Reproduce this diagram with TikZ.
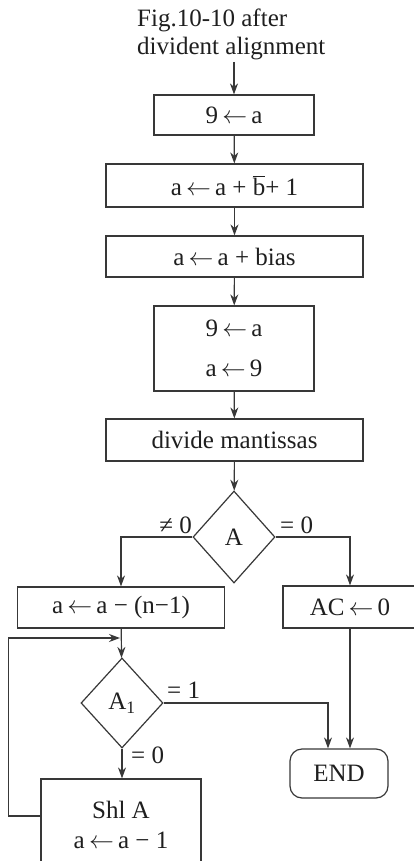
\documentclass[tikz,border=0pt]{standalone}
\usepackage{fontspec}
\setmainfont{Liberation Serif}
\usetikzlibrary{arrows.meta,shapes.geometric}
\newcommand{\lar}{\,$\leftarrow$\,}
\tikzset{
  every node/.style={font=\fontsize{25}{28}\selectfont, text=black!88},
  line/.style={draw=black!78, line width=1.2pt},
  arr/.style={line, -{Stealth[length=11pt,width=8pt]}},
  box/.style={line, rectangle, inner sep=0pt},
  dec/.style={line, diamond, aspect=1, inner sep=0pt},
  endbox/.style={line, rectangle, rounded corners=12pt, inner sep=0pt},
  lbl/.style={inner sep=0pt}
}
\begin{document}
\begin{tikzpicture}[x=1pt,y=-1pt]
\useasboundingbox (0,0) rectangle (414,861);
\fill[white] (0,0) rectangle (414,861);

\node[lbl, anchor=base west, align=left] (title) at (137,55) {Fig.10-10 after\\divident alignment};
\coordinate (t) at (234,62);

\node[box, minimum width=160pt, minimum height=40pt] (b1) at (234,115) {9\lar a};
\node[box, minimum width=257pt, minimum height=43pt] (b2) at (234.5,185.5) {a\lar a + $\overline{\hbox{b}}$+ 1};
\node[box, minimum width=257pt, minimum height=41pt] (b3) at (234.5,256.5) {a\lar a + bias};
\node[box, minimum width=160pt, minimum height=85pt, align=center,
      font=\fontsize{25}{40}\selectfont] (b4) at (234,348.5) {9\lar a\\a\lar 9};
\node[box, minimum width=257pt, minimum height=42pt] (b5) at (234.5,440) {divide mantissas};
\node[dec, minimum width=82pt, minimum height=92pt] (A) at (234,537) {A};
\node[box, minimum width=207pt, minimum height=41pt] (b6) at (121,607.5) {a\lar a − (n−1)};
\node[box, minimum width=134pt, minimum height=42pt] (b7) at (350,607) {AC\lar 0};
\node[dec, minimum width=82pt, minimum height=90pt] (A1) at (122,703) {A\textsubscript{1}};
\node[endbox, minimum width=98pt, minimum height=49pt] (end) at (339,773.5) {END};
\node[box, minimum width=160pt, minimum height=92pt, align=center,
      font=\fontsize{25}{30}\selectfont] (shl) at (121,825) {Shl A\\a\lar a − 1};

\coordinate (lp) at (122,638);

\draw[arr] (t) -- (b1.north);
\draw[arr] (b1) -- (b2);
\draw[arr] (b2) -- (b3);
\draw[arr] (b3) -- (b4);
\draw[arr] (b4) -- (b5);
\draw[arr] (b5) -- (A);
\draw[arr] (A.west) -| (b6.north);
\draw[arr] (A.east) -| (b7.north);
\draw[arr] (b6) -- (A1);
\draw[arr] (A1.south) -- (A1.south |- shl.north);
\draw[arr] (A1.east) -| ([xshift=-11pt]end.north);
\draw[arr] (b7.south) -- (b7.south |- end.north);
\draw[arr, shorten >=2pt] ([yshift=9pt]shl.west) -- ++(-32,0) |- (lp);

\node[lbl, anchor=base east] (l1) at (192,533) {≠ 0};
\node[lbl, anchor=base west] (l2) at (280,533) {= 0};
\node[lbl, anchor=base west] (l3) at (167,698) {= 1};
\node[lbl, anchor=base west] (l4) at (131,763) {= 0};
\end{tikzpicture}
\end{document}
